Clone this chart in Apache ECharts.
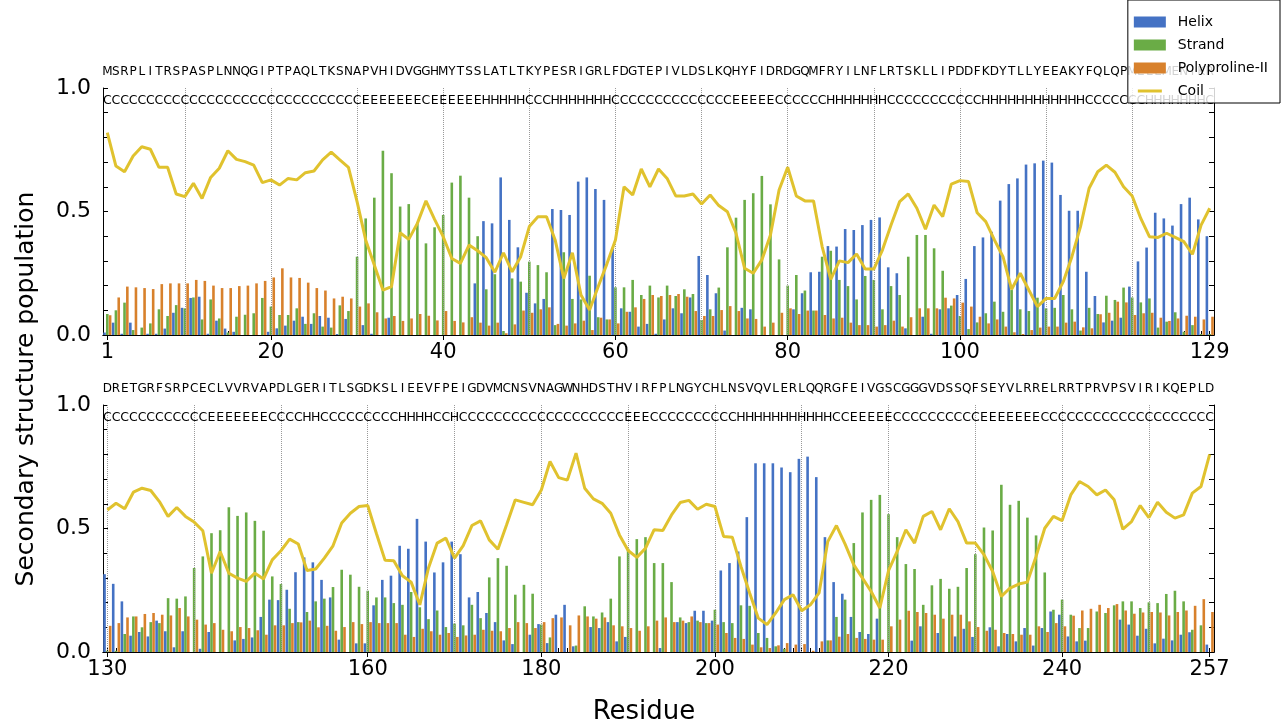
<!DOCTYPE html>
<html><head><meta charset="utf-8">
<script src="https://cdn.jsdelivr.net/npm/echarts/dist/echarts.min.js"></script>
<style>html,body{margin:0;padding:0;background:#fff}#c{width:1284px;height:726px}</style>
</head><body><div id="c"></div>
<script>
// ---------- DATA ----------
const seqTop = "MSRPLITRSPASPLNNQGIPTPAQLTKSNAPVHIDVGGHMYTSSLATLTKYPESRIGRLFDGTEPIVLDSLKQHYFIDRDGQMFRYILNFLRTSKLLIPDDFKDYTLLYEEAKYFQLQPMELEMENIKR";
const ssTop  = "CCCCCCCCCCCCCCCCCCCCCCCCCCCCCCEEEEEEECEEEEEEHHHHHCCCHHHHHHHCCCCCCCCCCCCCCEEEEECCCCCCHHHHHHHCCCCCCCCCCCHHHHHHHHHHHHCCCCCCCHHHHHHHC";
const seqBot = "DRETGRFSRPCECLVVRVAPDLGERITLSGDKSLIEEVFPEIGDVMCNSVNAGWNHDSTHVIRFPLNGYCHLNSVQVLERLQQRGFEIVGSCGGGVDSSQFSEYVLRRELRRTPRVPSVIRIKQEPLD";
const ssBot  = "CCCCCCCCCCCCEEEEEEECCCCHHCCCCCCCCCHHHHCCHCCCCCCCCCCCCCCCCCCCEEECCCCCCCCCCHHHHHHHHHHHCCEEEEECCCCCCCCCCEEEEEEECCCCCCCCCCCCCCCCCCCC";

const tickLabelsTop = [1, 20, 40, 60, 80, 100, 129];
const tickLabelsBot = [130, 160, 180, 200, 220, 240, 257];
const yTickLabels = [0.0, 0.5, 1.0];

const helixTop = [0.01,0.05,0.005,0.05,0,0.005,0.005,0.026,0.09,0.11,
0.15,0.155,0.005,0.058,0.026,0.013,0,0,0,0.013,
0.027,0.038,0.058,0.074,0.045,0.077,0.07,0.004,0.065,0,
0.04,0.005,0,0.07,0,0,0,0,0,0,
0,0,0,0.209,0.461,0.452,0.638,0.466,0.355,0.171,
0.128,0.146,0.51,0.506,0.486,0.621,0.638,0.591,0.547,0.348,
0.108,0.094,0.034,0.045,0.005,0.063,0.108,0.088,0.152,0.32,
0.243,0.169,0.018,0,0.11,0.104,0,0,0,0,
0.104,0.169,0.254,0.256,0.36,0.358,0.429,0.425,0.445,0.466,
0.476,0.274,0.25,0.027,0,0.074,0.005,0.104,0.108,0.162,
0.227,0.36,0.395,0.418,0.544,0.611,0.634,0.69,0.695,0.706,
0.698,0.567,0.503,0.503,0.256,0.158,0.051,0.058,0.07,0.196,
0.298,0.354,0.495,0.472,0.443,0.53,0.556,0.468,0.4];
const strandTop = [0.085,0.1,0.131,0.02,0.03,0.047,0.104,0.077,0.121,0.108,
0.152,0.063,0.144,0.067,0.01,0.074,0.082,0.088,0.15,0.115,
0.081,0.081,0.108,0.045,0.088,0.034,0.03,0.12,0.097,0.317,
0.472,0.556,0.746,0.655,0.52,0.53,0.456,0.371,0.436,0.486,
0.617,0.645,0.556,0.4,0.185,0.246,0.016,0.229,0.216,0.297,
0.283,0.254,0.04,0.335,0.146,0.144,0.24,0.072,0.063,0.193,
0.193,0.223,0.162,0.2,0.152,0.2,0.158,0.185,0.166,0.061,
0.104,0.192,0.355,0.475,0.547,0.574,0.644,0.529,0.306,0.2,
0.243,0.18,0.099,0.317,0.341,0.223,0.198,0.144,0.239,0.223,
0.104,0.198,0.162,0.317,0.405,0.405,0.351,0.26,0.119,0.077,
0.024,0.051,0.088,0.135,0.094,0.182,0.104,0.097,0.151,0.108,
0.11,0.162,0.104,0.018,0.11,0.085,0.159,0.142,0.192,0.152,
0.132,0.148,0.03,0.054,0.092,0.013,0.04,0.004,0.004];
const ppiiTop = [0.08,0.152,0.196,0.193,0.19,0.186,0.206,0.209,0.209,0.209,
0.223,0.219,0.2,0.19,0.19,0.198,0.2,0.209,0.219,0.233,
0.27,0.233,0.231,0.212,0.19,0.18,0.148,0.155,0.148,0.115,
0.128,0.092,0.067,0.077,0.057,0.067,0.085,0.078,0.059,0.097,
0.057,0.051,0.072,0.05,0.038,0.05,0.007,0.043,0.099,0.09,
0.104,0.112,0.045,0.038,0.047,0.058,0.02,0.07,0.063,0.047,
0.094,0.112,0.146,0.162,0.158,0.162,0.166,0.155,0.097,0.077,
0.077,0.101,0.117,0.097,0.067,0.065,0.034,0.05,0.09,0.108,
0.085,0.099,0.099,0.081,0.067,0.07,0.05,0.04,0.04,0.034,
0.04,0.058,0.034,0.072,0.108,0.108,0.108,0.151,0.148,0.131,
0.115,0.074,0.047,0.063,0.034,0.011,0.004,0.02,0.03,0.034,
0.034,0.05,0.054,0.031,0.027,0.084,0.09,0.135,0.132,0.081,
0.088,0.09,0.07,0.057,0.067,0.078,0.074,0.063,0.074];
const coilTop = [0.819,0.684,0.661,0.725,0.762,0.752,0.679,0.679,0.571,0.56,
0.614,0.553,0.638,0.675,0.746,0.711,0.702,0.688,0.617,0.628,
0.607,0.634,0.628,0.657,0.664,0.709,0.74,0.709,0.679,0.54,
0.385,0.283,0.182,0.196,0.414,0.387,0.452,0.543,0.468,0.398,
0.31,0.29,0.364,0.341,0.313,0.254,0.333,0.256,0.317,0.439,
0.479,0.479,0.385,0.229,0.333,0.162,0.101,0.196,0.287,0.385,
0.6,0.567,0.672,0.6,0.672,0.634,0.563,0.563,0.571,0.53,
0.567,0.524,0.499,0.412,0.27,0.25,0.304,0.405,0.587,0.679,
0.563,0.543,0.543,0.358,0.225,0.3,0.293,0.328,0.267,0.267,
0.344,0.445,0.54,0.571,0.513,0.428,0.526,0.479,0.611,0.625,
0.621,0.495,0.459,0.385,0.317,0.185,0.25,0.182,0.115,0.148,
0.148,0.216,0.317,0.439,0.594,0.661,0.688,0.659,0.6,0.563,
0.472,0.398,0.395,0.412,0.395,0.378,0.327,0.445,0.513];

const helixBot = [0.315,0.276,0.205,0.066,0.081,0.063,0.127,0.084,0.019,0.084,
0,0.013,0.081,0,0,0.047,0.053,0.059,0.142,0.212,
0.21,0.252,0.323,0.383,0.363,0.292,0.221,0.05,0,0.035,
0.035,0.189,0.292,0.309,0.43,0.418,0.539,0.447,0.322,0.363,
0.447,0.396,0.221,0.243,0.158,0.121,0.047,0.032,0,0.07,
0.113,0.036,0.151,0.191,0.023,0,0.101,0.097,0.121,0.043,
0.061,0,0,0,0.016,0,0.121,0.117,0.167,0.167,
0.127,0.33,0.36,0.407,0.546,0.764,0.764,0.764,0.747,0.728,
0.782,0.791,0.708,0.465,0.283,0.236,0.142,0.081,0.073,0.135,
0,0,0,0.046,0.104,0,0.077,0,0.063,0.094,
0.061,0,0.1,0.023,0.073,0.043,0.097,0.026,0.097,0.164,
0.151,0.063,0.043,0.046,0,0,0,0.131,0.111,0.066,
0.094,0.035,0.054,0.047,0.07,0.08,0,0.03];
const strandBot = [0.005,0.005,0.073,0.144,0.1,0.121,0.117,0.218,0.216,0.225,
0.34,0.387,0.481,0.493,0.586,0.551,0.565,0.531,0.491,0.306,
0.275,0.175,0.121,0.162,0.205,0.216,0.263,0.333,0.313,0.264,
0.248,0.221,0.221,0.198,0.191,0.243,0.181,0.133,0.168,0.101,
0.115,0.108,0.191,0.137,0.302,0.38,0.349,0.232,0.272,0.236,
0.111,0.059,0,0,0.026,0.185,0.144,0.16,0.216,0.387,
0.418,0.457,0.465,0.36,0.36,0.283,0.14,0.121,0.127,0.117,
0.171,0.121,0.117,0.189,0.187,0.077,0.057,0.023,0.013,0,
0,0,0,0.047,0.142,0.212,0.441,0.565,0.616,0.636,
0.558,0.465,0.356,0.336,0.191,0.27,0.296,0.256,0.264,0.34,
0.396,0.504,0.492,0.677,0.596,0.612,0.544,0.472,0.322,0.171,
0.212,0.151,0.097,0.097,0.164,0.158,0.189,0.205,0.205,0.178,
0.201,0.198,0.235,0.248,0.205,0.09,0.108,0];
const ppiiBot = [0.106,0.117,0.14,0.144,0.154,0.158,0.151,0.148,0.178,0.144,
0.131,0.111,0.117,0.09,0.084,0.101,0.097,0.088,0.07,0.108,
0.108,0.117,0.12,0.127,0.1,0.106,0.086,0.101,0.121,0.113,
0.121,0.117,0.117,0.117,0.07,0.061,0.094,0.084,0.07,0.077,
0.061,0.067,0.07,0.09,0.086,0.084,0.097,0.121,0.117,0.097,
0.121,0.137,0.14,0.108,0.148,0.144,0.135,0.14,0.108,0.104,
0.097,0.086,0.104,0.127,0.14,0.121,0.127,0.144,0.121,0.117,
0.111,0.077,0.057,0.053,0.03,0.019,0.016,0.027,0.036,0.03,
0.032,0.005,0.043,0.047,0.062,0.073,0.057,0.053,0.05,0.05,
0.104,0.131,0.167,0.162,0.158,0.151,0.135,0.151,0.151,0.124,
0.101,0.086,0.09,0.077,0.073,0.07,0.07,0.104,0.081,0.117,
0.104,0.147,0.168,0.175,0.191,0.178,0.194,0.168,0.155,0.16,
0.162,0.16,0.148,0.162,0.168,0.187,0.214,0.162];
const coilBot = [0.575,0.602,0.58,0.647,0.663,0.654,0.609,0.549,0.585,0.549,
0.526,0.491,0.319,0.407,0.319,0.299,0.286,0.319,0.296,0.373,
0.41,0.457,0.437,0.33,0.336,0.38,0.43,0.522,0.562,0.589,
0.593,0.48,0.371,0.369,0.309,0.283,0.191,0.34,0.441,0.461,
0.38,0.431,0.512,0.531,0.454,0.416,0.515,0.616,0.606,0.596,
0.656,0.771,0.706,0.696,0.805,0.663,0.62,0.602,0.562,0.474,
0.411,0.383,0.42,0.495,0.492,0.555,0.605,0.614,0.578,0.598,
0.589,0.468,0.465,0.346,0.239,0.137,0.111,0.158,0.212,0.232,
0.167,0.191,0.239,0.447,0.512,0.437,0.353,0.299,0.245,0.178,
0.329,0.407,0.495,0.441,0.549,0.569,0.495,0.58,0.528,0.441,
0.441,0.394,0.326,0.225,0.259,0.275,0.283,0.387,0.501,0.549,
0.532,0.636,0.69,0.67,0.636,0.656,0.616,0.497,0.528,0.593,
0.544,0.606,0.566,0.542,0.555,0.643,0.67,0.8];

// ---------- CHART ----------
const FONT = 'DejaVu Sans';
const COLORS = {Helix:'#4472C4', Strand:'#6AAC46', PPII:'#D8812C', Coil:'#E0C22E'};
const resTop = seqTop.split('').map((_, i) => String(i + 1));
const resBot = seqBot.split('').map((_, i) => String(i + 130));

const xAxes = [], yAxes = [], grids = [], series = [];

function addPanel(gi, res, seq, ss, tickLabels, helix, strand, ppii, coil, top) {
  grids.push({left: 103, right: 70, top: top, height: 247});
  const show = (idx, val) => tickLabels.indexOf(+val) >= 0;
  const base = xAxes.length;
  xAxes.push({
    gridIndex: gi, type: 'category', data: res, position: 'bottom', boundaryGap: true,
    axisLine: {show: true, lineStyle: {color: '#000', width: 1}},
    axisTick: {show: true, interval: show, alignWithLabel: true, length: 5, lineStyle: {color: '#000'}},
    axisLabel: {interval: show, fontSize: 21, fontFamily: FONT, color: '#000', margin: 7},
    splitLine: {show: false}
  });
  xAxes.push({
    gridIndex: gi, type: 'category', data: res, position: 'top', boundaryGap: true,
    axisLine: {show: true, lineStyle: {color: '#000', width: 1}},
    axisTick: {show: true, interval: 0, alignWithLabel: true, length: 4, lineStyle: {color: '#000'}},
    axisLabel: {interval: 0, fontSize: 12, fontFamily: FONT, color: '#000', margin: 10,
      formatter: (v, i) => seq[i]},
    splitLine: {show: false}
  });
  xAxes.push({
    gridIndex: gi, type: 'category', data: res, position: 'top', boundaryGap: true,
    axisLine: {show: false}, axisTick: {show: false},
    axisLabel: {interval: 0, inside: true, fontSize: 12.5, fontFamily: FONT, color: '#000', margin: 6,
      formatter: (v, i) => ss[i]},
    splitLine: {show: false}
  });
  const yb = yAxes.length;
  const yCommon = {gridIndex: gi, type: 'value', min: 0, max: 1, interval: 0.1,
    axisLine: {show: true, lineStyle: {color: '#000', width: 1}},
    axisTick: {show: true, inside: true, length: 5, lineStyle: {color: '#000'}},
    splitLine: {show: false}};
  yAxes.push(Object.assign({}, yCommon, {position: 'left',
    axisLabel: {fontSize: 22, fontFamily: FONT, color: '#000', margin: 12,
      formatter: v => { const hit = yTickLabels.find(t => Math.abs(t - v) < 1e-6); return hit === undefined ? '' : hit.toFixed(1); }}}));
  yAxes.push(Object.assign({}, yCommon, {position: 'right', axisLabel: {show: false}}));

  const barCommon = {type: 'bar', xAxisIndex: base, yAxisIndex: yb, barWidth: 2.6, barGap: '8%',
    animation: false, silent: true};
  series.push(Object.assign({}, barCommon, {name: 'Helix', data: helix, itemStyle: {color: COLORS.Helix}}));
  series.push(Object.assign({}, barCommon, {name: 'Strand', data: strand, itemStyle: {color: COLORS.Strand}}));
  series.push(Object.assign({}, barCommon, {name: 'Polyproline-II', data: ppii, itemStyle: {color: COLORS.PPII}}));
  series.push({
    type: 'line', name: 'Coil', xAxisIndex: base, yAxisIndex: yb, data: coil,
    symbol: 'none', animation: false, silent: true, z: 5,
    lineStyle: {color: COLORS.Coil, width: 3}, itemStyle: {color: COLORS.Coil},
    markLine: {
      silent: true, symbol: ['none', 'none'], label: {show: false}, animation: false,
      lineStyle: {type: 'dotted', color: '#999', width: 1},
      data: res.filter(r => +r % 10 === 0).map(r => ({xAxis: r}))
    }
  });
}

addPanel(0, resTop, seqTop, ssTop, tickLabelsTop, helixTop, strandTop, ppiiTop, coilTop, 88);
addPanel(1, resBot, seqBot, ssBot, tickLabelsBot, helixBot, strandBot, ppiiBot, coilBot, 405);

const chart = echarts.init(document.getElementById('c'), null, {renderer: 'canvas'});
chart.setOption({
  animation: false,
  backgroundColor: '#fff',
  textStyle: {fontFamily: FONT},
  grid: grids, xAxis: xAxes, yAxis: yAxes, series: series,
  legend: {
    orient: 'vertical', right: 4, top: 0, padding: [15, 12, 5, 6], itemGap: 9,
    itemWidth: 32, itemHeight: 14, backgroundColor: 'rgba(255,255,255,0.82)',
    borderColor: '#000', borderWidth: 1, borderRadius: 0, z: 20,
    textStyle: {fontSize: 14, fontFamily: FONT, color: '#000', padding: [0, 0, 0, 7]},
    data: [
      {name: 'Helix', icon: 'path://M0,0 M0,1.5 L32,1.5 L32,12.5 L0,12.5 Z M32,14'},
      {name: 'Strand', icon: 'path://M0,0 M0,1.5 L32,1.5 L32,12.5 L0,12.5 Z M32,14'},
      {name: 'Polyproline-II', icon: 'path://M0,0 M0,1.5 L32,1.5 L32,12.5 L0,12.5 Z M32,14'},
      {name: 'Coil', icon: 'path://M0,0 M4,5.5 L28,5.5 L28,8.5 L4,8.5 Z M32,14'}
    ]
  },
  graphic: [{
    type: 'text', x: 26, y: 389, rotation: Math.PI / 2,
    style: {text: 'Secondary structure population', font: '25px "DejaVu Sans"', fill: '#000',
      align: 'center', verticalAlign: 'middle'}
  }, {
    type: 'text', x: 644, y: 712,
    style: {text: 'Residue', font: '26px "DejaVu Sans"', fill: '#000',
      align: 'center', verticalAlign: 'middle'}
  }]
});
</script>
</body></html>
